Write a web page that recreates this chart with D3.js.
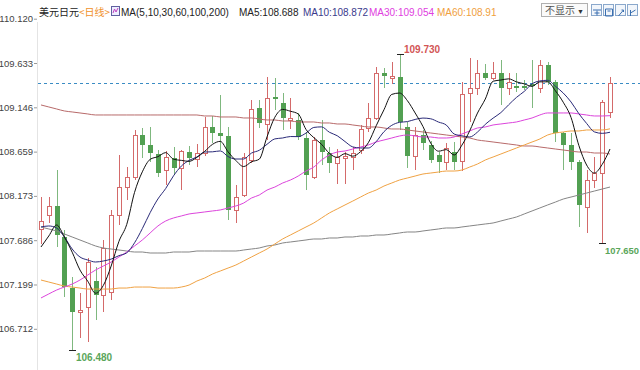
<!DOCTYPE html>
<html><head><meta charset="utf-8">
<script src="https://cdn.jsdelivr.net/npm/d3@7/dist/d3.min.js"></script>
<style>
html,body{margin:0;padding:0;background:#fff;}
svg{display:block;}
text{font-family:"Liberation Sans",Arial,"Noto Sans CJK SC",sans-serif;}
</style></head>
<body><svg id="c" width="640" height="370"></svg>
<script>
// ---- data (USD/JPY daily) ----
const open = [107.809,107.963,108.062,107.721,107.160,106.897,106.952,107.237,107.084,107.117,
107.963,108.270,108.380,108.842,108.732,108.633,108.457,108.589,108.479,108.655,
108.578,108.644,108.930,108.864,108.831,108.018,108.182,108.567,109.138,108.963,
109.259,109.193,109.007,109.007,108.809,108.380,108.787,108.644,108.534,108.589,
108.600,108.677,108.919,109.029,109.523,109.468,109.479,108.930,108.611,108.842,
108.732,108.622,108.545,108.655,108.556,109.303,109.358,109.523,109.468,109.523,
109.358,109.380,109.380,109.402,109.358,109.611,109.424,108.864,108.732,108.545,
108.051,108.347,108.424,109.095];
const high = [108.160,108.160,108.457,107.798,107.281,107.105,107.490,107.391,107.688,108.018,
108.622,108.490,108.897,108.919,108.930,108.677,108.666,108.710,108.677,108.721,
108.743,109.040,109.051,109.281,108.930,108.292,108.644,109.226,109.226,109.479,
109.468,109.303,109.248,109.084,108.875,108.820,109.007,108.710,108.688,108.655,
108.710,108.952,109.193,109.589,109.578,109.644,109.730,108.985,108.930,108.897,
108.776,108.655,108.754,108.765,109.424,109.688,109.666,109.622,109.644,109.666,
109.523,109.523,109.446,109.666,109.666,109.644,109.446,108.875,108.864,108.567,
108.457,108.600,109.226,109.479];
const low = [107.644,107.875,107.611,107.062,106.480,106.611,106.567,106.809,106.897,107.029,
107.853,108.127,108.347,108.589,108.545,108.380,108.292,108.402,108.237,108.512,
108.490,108.611,108.754,108.677,107.908,107.875,108.160,108.534,108.919,108.787,
109.116,108.897,108.908,108.787,108.237,108.358,108.512,108.424,108.303,108.303,
108.457,108.633,108.875,109.007,109.358,109.402,108.897,108.479,108.457,108.677,
108.534,108.424,108.457,108.457,108.446,108.985,109.281,109.446,109.446,109.171,
109.281,109.314,109.336,109.138,109.303,109.391,108.765,108.457,108.457,107.831,
107.765,108.259,107.650,109.029];
const close = [107.897,108.062,107.743,107.171,106.897,106.919,107.446,107.084,107.600,107.963,
108.270,108.380,108.842,108.732,108.644,108.424,108.600,108.479,108.666,108.589,
108.644,108.930,108.864,108.831,108.018,108.160,108.600,109.127,108.974,109.248,
109.237,109.029,109.029,108.820,108.402,108.787,108.655,108.534,108.600,108.611,
108.644,108.908,109.029,109.523,109.490,109.490,108.985,108.611,108.842,108.754,
108.567,108.545,108.699,108.545,109.292,109.358,109.523,109.468,109.523,109.358,
109.424,109.358,109.358,109.380,109.611,109.424,108.864,108.732,108.545,108.073,
108.347,108.424,109.204,109.413];
const ma5 = [107.611,107.732,107.853,107.721,107.554,107.358,107.235,107.103,107.189,107.402,
107.673,107.859,108.211,108.437,108.574,108.604,108.648,108.576,108.563,108.552,
108.596,108.662,108.739,108.772,108.657,108.561,108.495,108.547,108.576,108.822,
109.037,109.123,109.103,109.073,108.903,108.813,108.739,108.640,108.596,108.637,
108.609,108.659,108.758,108.943,109.119,109.288,109.303,109.220,109.084,108.936,
108.752,108.664,108.681,108.622,108.730,108.888,109.083,109.237,109.433,109.446,
109.459,109.426,109.404,109.376,109.426,109.426,109.327,109.202,109.035,108.728,
108.512,108.424,108.519,108.688];
const ma10 = [107.831,107.842,107.820,107.721,107.589,107.501,107.468,107.446,107.457,107.478,
107.516,107.547,107.657,107.813,107.988,108.139,108.254,108.393,108.500,108.563,
108.600,108.655,108.657,108.667,108.605,108.578,108.578,108.643,108.674,108.740,
108.799,108.809,108.825,108.824,108.863,108.925,108.931,108.872,108.834,108.770,
108.711,108.699,108.699,108.769,108.878,108.948,108.981,108.989,109.013,109.028,
109.020,108.984,108.951,108.853,108.833,108.820,108.874,108.959,109.027,109.088,
109.174,109.255,109.321,109.404,109.436,109.443,109.377,109.303,109.205,109.077,
108.969,108.876,108.860,108.872];
const ma30 = [107.051,107.095,107.138,107.171,107.204,107.248,107.303,107.358,107.402,107.446,
107.501,107.556,107.622,107.688,107.765,107.842,107.897,107.930,107.952,107.974,
107.985,107.996,108.007,108.018,108.040,108.062,108.094,108.149,108.182,108.237,
108.270,108.314,108.347,108.391,108.446,108.490,108.567,108.622,108.655,108.666,
108.688,108.710,108.732,108.765,108.787,108.809,108.831,108.842,108.831,108.820,
108.820,108.809,108.809,108.820,108.853,108.886,108.919,108.930,108.952,108.963,
108.974,108.985,109.007,109.029,109.062,109.084,109.084,109.084,109.084,109.073,
109.062,109.051,109.051,109.054];
const ma60 = [107.248,107.226,107.204,107.182,107.171,107.160,107.149,107.149,107.149,107.149,
107.160,107.160,107.171,107.171,107.171,107.160,107.160,107.160,107.171,107.193,
107.237,107.270,107.314,107.347,107.380,107.413,107.457,107.501,107.545,107.589,
107.644,107.699,107.743,107.787,107.831,107.875,107.930,107.985,108.029,108.073,
108.116,108.160,108.204,108.237,108.281,108.314,108.347,108.369,108.391,108.413,
108.424,108.435,108.446,108.446,108.457,108.490,108.523,108.567,108.600,108.633,
108.666,108.699,108.732,108.765,108.798,108.842,108.864,108.875,108.886,108.886,
108.897,108.897,108.897,108.910];
const ma100 = [109.172,109.150,109.128,109.106,109.095,109.084,109.073,109.062,109.062,109.062,
109.062,109.062,109.062,109.062,109.062,109.062,109.062,109.062,109.062,109.062,
109.062,109.051,109.051,109.040,109.040,109.040,109.029,109.029,109.018,109.007,
109.007,108.996,108.996,108.985,108.985,108.985,108.974,108.974,108.963,108.963,
108.952,108.941,108.930,108.930,108.919,108.908,108.908,108.897,108.886,108.875,
108.864,108.853,108.842,108.831,108.820,108.809,108.787,108.776,108.765,108.754,
108.743,108.732,108.721,108.721,108.710,108.699,108.688,108.677,108.666,108.655,
108.655,108.644,108.644,108.633];
const ma200 = [107.831,107.809,107.787,107.754,107.721,107.688,107.655,107.622,107.600,107.589,
107.578,107.567,107.556,107.556,107.545,107.545,107.545,107.556,107.556,107.556,
107.567,107.567,107.567,107.567,107.567,107.567,107.578,107.589,107.600,107.622,
107.633,107.655,107.666,107.677,107.688,107.699,107.699,107.710,107.710,107.721,
107.721,107.732,107.732,107.743,107.743,107.754,107.765,107.776,107.776,107.787,
107.798,107.809,107.820,107.820,107.831,107.842,107.853,107.864,107.875,107.897,
107.919,107.941,107.974,108.007,108.040,108.073,108.105,108.138,108.160,108.182,
108.204,108.226,108.248,108.270];
const yTicks = [110.120,109.633,109.146,108.659,108.173,107.686,107.199,106.712];
const maLabels = ["MA5:108.688","MA10:108.872","MA30:109.054","MA60:108.91"];
const title = "美元日元";
const period = "<日线>";
const maSpec = "MA(5,10,30,60,100,200)";

// ---- drawing ----
const svg = d3.select("#c");
const n = close.length;
const x = d3.scaleBand().domain(d3.range(n)).range([37.1, 613.9]).padding(0);
const y = d3.scaleLinear().domain([106.712, 110.120]).range([328.8, 18.7]);
const cx = i => Math.round(x(i) + x.bandwidth()/2);
const UP = "#d46a6a", DOWN = "#52a052";

svg.append("rect").attr("width",640).attr("height",370).attr("fill","#fff");

// left axis line
svg.append("line").attr("x1",37.5).attr("x2",37.5).attr("y1",22).attr("y2",370)
  .attr("stroke","#e4e4e4");

const ax = svg.append("g").attr("transform","translate(37,0)")
  .call(d3.axisLeft(y).tickValues(yTicks).tickFormat(d3.format(".3f")).tickSize(3).tickPadding(1));
ax.select(".domain").remove();
ax.selectAll("line").attr("stroke","#999");
ax.selectAll("text").attr("fill","#444").style("font-size","9.5px");

// last price dashed line
svg.append("line").attr("x1",38).attr("x2",640)
  .attr("y1",Math.round(y(close[n-1]))+0.5).attr("y2",Math.round(y(close[n-1]))+0.5)
  .attr("stroke","#3a8cc4").attr("stroke-dasharray","3,3").attr("stroke-width",1);

// candles
const cg = svg.append("g");
d3.range(n).forEach(i=>{
  const c = cx(i), up = close[i] >= open[i];
  const col = up ? UP : DOWN;
  const top = Math.round(y(Math.max(open[i],close[i])));
  const bot = Math.round(y(Math.min(open[i],close[i])));
  const hy = Math.round(y(high[i])), ly = Math.round(y(low[i]));
  if (up) {
    cg.append("line").attr("x1",c+0.5).attr("x2",c+0.5).attr("y1",hy).attr("y2",top).attr("stroke",col);
    cg.append("line").attr("x1",c+0.5).attr("x2",c+0.5).attr("y1",bot).attr("y2",ly).attr("stroke",col);
    cg.append("rect").attr("x",c-1.5).attr("y",top+0.5).attr("width",4).attr("height",Math.max(1,bot-top))
      .attr("fill","#fff").attr("stroke",col);
  } else {
    cg.append("line").attr("x1",c+0.5).attr("x2",c+0.5).attr("y1",hy).attr("y2",ly).attr("stroke","#7fb87f");
    cg.append("rect").attr("x",c-2).attr("y",top).attr("width",5).attr("height",Math.max(2,bot-top))
      .attr("fill",col);
  }
});

// moving averages
const series = [
  {v:ma200, c:"#858585"},
  {v:ma100, c:"#b86a6a"},
  {v:ma60,  c:"#f0a243"},
  {v:ma30,  c:"#dc44dc"},
  {v:ma10,  c:"#2a2a78"},
  {v:ma5,   c:"#111111"}
];
const line = d3.line().x((d,i)=>x(i)+x.bandwidth()/2).y(d=>y(d)).curve(d3.curveMonotoneX);
series.forEach(s=>{
  svg.append("path").attr("d",line(s.v)).attr("fill","none").attr("stroke",s.c).attr("stroke-width",1);
});

// extreme markers
const hiI = d3.maxIndex(high), loI = d3.minIndex(low);
const recentLoI = d3.minIndex(low.slice(60)) + 60;
function marker(i, val, col, above, dx, fs){
  const c = cx(i), yy = Math.round(y(val)) + 0.5;
  svg.append("line").attr("x1",c-3).attr("x2",c+4).attr("y1",yy).attr("y2",yy).attr("stroke","#222");
  svg.append("text").attr("x",c+dx).attr("y", above ? yy-1.5 : yy+10)
    .attr("fill",col).style("font-size",fs+"px").style("font-weight","bold").text(val.toFixed(3));
}
marker(hiI, high[hiI], "#d25555", true, 4, 10);
marker(loI, low[loI], "#5aa65a", false, 4, 10);
marker(recentLoI, low[recentLoI], "#5aa65a", false, 3, 9.4);

// header
const hy0 = 16;
svg.append("text").attr("x",39).attr("y",hy0).style("font-size","10px").attr("fill","#222")
  .style("font-family","'Noto Sans CJK SC',sans-serif").text(title);
svg.append("text").attr("x",79).attr("y",hy0).style("font-size","10px").attr("fill","#f0902a")
  .style("font-family","'Noto Sans CJK SC',sans-serif").text(period);
const ic = svg.append("g").attr("transform","translate(111,6)");
ic.append("rect").attr("x",0.5).attr("y",0.5).attr("width",8).attr("height",9).attr("fill","#eef").attr("stroke","#6060a0");
ic.append("path").attr("d","M2,7 L3.5,3 L5,6 L7,2").attr("fill","none").attr("stroke","#c040c0");
svg.append("text").attr("x",121).attr("y",hy0).style("font-size","10px").attr("fill","#222").text(maSpec);
const labCols = ["#222","#3a3a8c","#e040e0","#f0a040"];
const labX = [239,303,369,437];
maLabels.forEach((t,k)=>{
  svg.append("text").attr("x",labX[k]).attr("y",hy0).style("font-size","10px").attr("fill",labCols[k]).text(t);
});
// right controls
svg.append("rect").attr("x",541.5).attr("y",3.5).attr("width",46).attr("height",13)
  .attr("fill","#fafafa").attr("stroke","#b0b0b0");
svg.append("text").attr("x",545).attr("y",14).style("font-size","10px").attr("fill","#555")
  .style("font-family","'Noto Sans CJK SC',sans-serif").text("不显示");
svg.append("text").attr("x",577).attr("y",13.5).style("font-size","7px").attr("fill","#333").text("▼");
[0,1,2,3].forEach(k=>{
  const gx = 591.5 + k*12;
  svg.append("rect").attr("x",gx).attr("y",4.5).attr("width",10).attr("height",11)
    .attr("fill","#f2f6fb").attr("stroke","#8aa8cc");
  const p = ["M3,10 h5 M5.5,7.5 v5 M1.5,7 h8","M2,6 h7 v7 h-7 z M4,8 h3","M3,13 L8,7 M6,7 h2 v2","M3,10 L8,7 M3,7 v6"][k];
  svg.append("path").attr("transform",`translate(${gx},3)`).attr("d",p).attr("fill","none").attr("stroke","#3a6fb0");
});
</script></body></html>
